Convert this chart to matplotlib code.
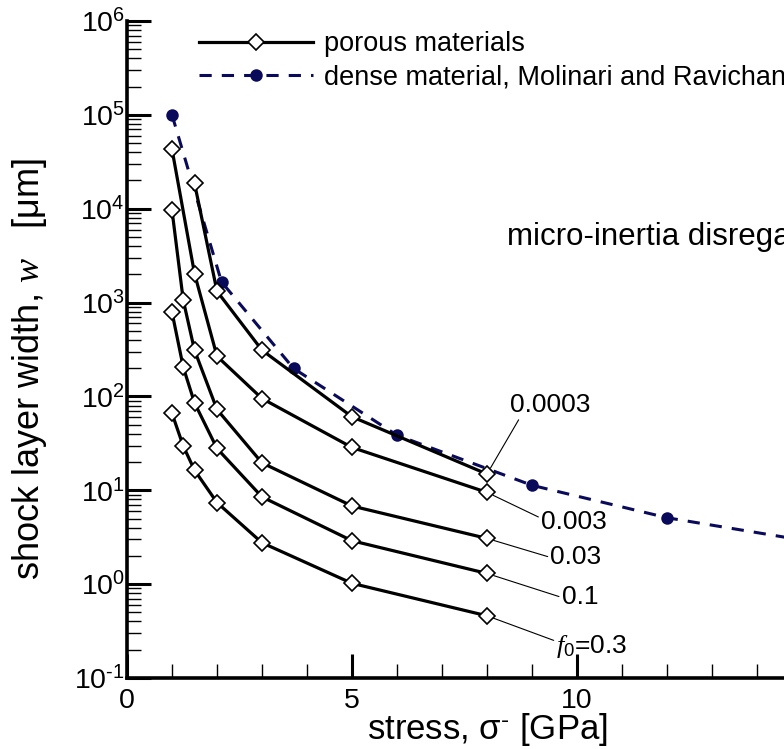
import numpy as np
import matplotlib
matplotlib.use("Agg")
import matplotlib.pyplot as plt
from matplotlib.ticker import MultipleLocator, LogLocator, NullFormatter, FuncFormatter

# 폰트 설정 (Arial 계열 + 기울임 serif)
plt.rcParams["font.family"] = ["Liberation Sans", "DejaVu Sans"]
plt.rcParams["mathtext.fontset"] = "custom"
plt.rcParams["mathtext.rm"] = "Liberation Sans"
plt.rcParams["mathtext.it"] = "Liberation Serif:italic"
plt.rcParams["mathtext.bf"] = "Liberation Sans:bold"

# 데이터
f0_labels = ["0.0003", "0.003", "0.03", "0.1", r"$f_{\mathit{0}}$=0.3"]
stress_00003 = [1.5, 2, 3, 5, 8]
w_00003 = [1.87e4, 1320, 311, 60.7, 14.9]
stress_0003 = [1.0, 1.5, 2, 3, 5, 8]
w_0003 = [4.3e4, 2040, 268, 95, 28.6, 9.5]
stress_003 = [1.0, 1.25, 1.5, 2, 3, 5, 8]
w_003 = [9640, 1060, 311, 72.6, 19.6, 6.8, 3.07]
stress_01 = [1.0, 1.25, 1.5, 2, 3, 5, 8]
w_01 = [790, 205, 85.5, 27.9, 8.5, 2.9, 1.30]
stress_03 = [1.0, 1.25, 1.5, 2, 3, 5, 8]
w_03 = [66, 29.6, 16.4, 7.4, 2.76, 1.02, 0.46]

stress_dense = [1.0, 2.1, 3.7, 6, 9, 12, 15]
w_dense = [1e5, 1660, 199, 38.6, 11.3, 5.1, 2.95]

porous = [(stress_00003, w_00003), (stress_0003, w_0003), (stress_003, w_003),
          (stress_01, w_01), (stress_03, w_03)]

# 라벨 위치 (마지막 점 기준 픽셀 오프셋)
label_offsets = [(63, 69), (87, -30), (89, -19), (93, -24), (105, -31)]
label_relpos = [(0.13, 0.0), (0.0, 0.67), (0.0, 0.5), (0.0, 0.5), (0.0, 0.7)]

navy = "#0a0a5a"

fig = plt.figure(figsize=(7.84, 7.49), dpi=100)
W, H = 784, 749
ax = fig.add_axes([127 / W, (H - 678) / H, 720 / W, 657 / H])

# dense material (점선)
ax.plot(stress_dense, w_dense, color=navy, lw=2.2, dashes=(4, 3.3),
        marker="o", ms=9, mec=navy, mfc=navy, mew=0,
        label="dense material, Molinari and Ravichandran", zorder=2)

# porous materials
for i, (s, w) in enumerate(porous):
    ax.plot(s, w, color="black", lw=2.3, marker="D", ms=7.8, mfc="white",
            mec="black", mew=1.2, zorder=3,
            label="porous materials" if i == 0 else "_nolegend_")

for (s, w), lab, off, rp in zip(porous, f0_labels, label_offsets, label_relpos):
    ax.annotate(lab, xy=(s[-1], w[-1]), xytext=off, textcoords="offset pixels",
                ha="center", va="center", fontsize=19,
                arrowprops=dict(arrowstyle="-", color="black", lw=0.8,
                                shrinkA=0, shrinkB=5, relpos=rp))

ax.text((507 - 127) / 720, (678 - 245) / 657, "micro-inertia disregarded",
        transform=ax.transAxes, fontsize=22.5, va="baseline", ha="left")

ax.set_yscale("log")
ax.set_xlim(0, 16)
ax.set_ylim(1e-1, 1e6)


def exp_label(v, pos):
    e = int(round(np.log10(v)))
    if e < 0:
        return r"$\mathregular{10^{\text{-}%d}}$" % (-e)
    return r"$\mathregular{10^{%d}}$" % e


ax.xaxis.set_major_locator(MultipleLocator(5))
ax.xaxis.set_minor_locator(MultipleLocator(1))
ax.yaxis.set_major_locator(LogLocator(base=10, numticks=20))
ax.yaxis.set_minor_locator(LogLocator(base=10, subs=np.arange(2, 10), numticks=20))
ax.yaxis.set_minor_formatter(NullFormatter())
ax.yaxis.set_major_formatter(FuncFormatter(exp_label))

ax.tick_params(which="major", direction="in", length=17, width=2.2, labelsize=20.5)
ax.tick_params(which="minor", direction="in", length=10, width=1.0)
ax.tick_params(axis="x", which="major", pad=7)
ax.tick_params(axis="y", which="major", pad=1.5)

for side in ["top", "right"]:
    ax.spines[side].set_visible(False)
for side in ["left", "bottom"]:
    ax.spines[side].set_linewidth(2.6)

ax.set_xlabel(r"stress, σ$^{\text{-}}$ [GPa]", fontsize=25, va="top")
ax.xaxis.set_label_coords(0.5, (678 - 711) / 657)
ax.set_ylabel(r"shock layer width, $w$" + " " * 3 + "[μm]", fontsize=26, va="center")
ax.yaxis.set_label_coords((30 - 127) / 720, (678 - 369) / 657)

handles, labels = ax.get_legend_handles_labels()
ax.legend(handles[::-1], labels[::-1], loc="upper left",
          bbox_to_anchor=(199 / W, 1 - 31 / H), bbox_transform=fig.transFigure,
          frameon=False, fontsize=19.5, handlelength=4.2, handletextpad=0.4,
          labelspacing=0.28, borderpad=0, borderaxespad=0)

fig.savefig("out.png", dpi=100)
